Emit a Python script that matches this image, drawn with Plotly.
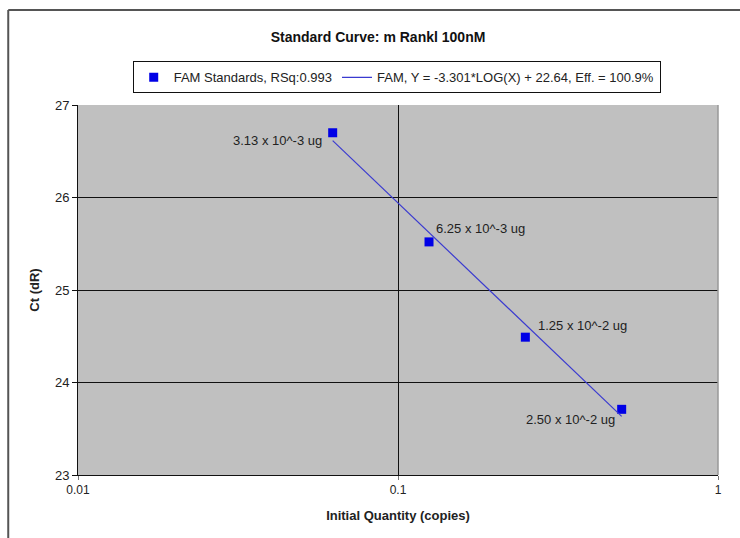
import plotly.graph_objects as go
import numpy as np

# Standard dilution series (initial quantity) and measured Ct values
quantity = [0.0625, 0.125, 0.25, 0.5]
ct_values = [26.70, 25.52, 24.49, 23.71]
point_labels = ["3.13 x 10^-3 ug", "6.25 x 10^-3 ug", "1.25 x 10^-2 ug", "2.50 x 10^-2 ug"]

# Fitted standard curve: Y = slope*LOG(X) + intercept
slope = -3.301
intercept = 22.64
fit_x = [quantity[0], quantity[-1]]
fit_y = [slope * np.log10(v) + intercept for v in fit_x]

font = "Liberation Sans, Arial, sans-serif"

fig = go.Figure()
fig.add_trace(go.Scatter(
    x=quantity, y=ct_values, mode="markers",
    name="FAM Standards, RSq:0.993",
    marker=dict(symbol="square", size=9, color="#0000e6"),
))
fig.add_trace(go.Scatter(
    x=fit_x, y=fit_y, mode="lines",
    name="FAM, Y = -3.301*LOG(X) + 22.64, Eff. = 100.9%",
    line=dict(color="#3a3ad0", width=1.2),
))

# Per-point dilution labels
offsets = [
    dict(xanchor="right", xshift=-9, yshift=-8),
    dict(xanchor="left", xshift=5, yshift=13),
    dict(xanchor="left", xshift=11, yshift=12),
    dict(xanchor="right", xshift=-5, yshift=-10),
]
for xv, yv, txt, off in zip(quantity, ct_values, point_labels, offsets):
    fig.add_annotation(x=np.log10(xv), y=yv, text=txt, showarrow=False,
                       font=dict(family=font, size=13, color="#222"),
                       yanchor="middle", **off)

# Outer chart frame (top and left edges)
fig.add_shape(type="line", xref="paper", yref="paper",
              x0=-0.109, x1=1.1, y0=1.257, y1=1.257,
              line=dict(color="#555", width=2))
fig.add_shape(type="line", xref="paper", yref="paper",
              x0=-0.109, x1=-0.109, y0=1.257, y1=-0.2,
              line=dict(color="#555", width=2))
# Right edge of the plotting area
fig.add_shape(type="line", xref="paper", yref="paper",
              x0=1, x1=1, y0=0, y1=1, line=dict(color="#999", width=1.5))

fig.update_layout(
    width=740, height=538,
    margin=dict(l=78, r=22, t=105, b=63),
    paper_bgcolor="white",
    plot_bgcolor="#c0c0c0",
    font=dict(family=font, size=12, color="#222"),
    title=dict(text="<b>Standard Curve: m Rankl 100nM</b>",
               x=378 / 740, xanchor="center", y=1 - 37 / 538, yanchor="middle",
               font=dict(size=14, color="#111")),
    legend=dict(orientation="h", x=0.498, xanchor="center",
                y=1.118, yanchor="top",
                bgcolor="white", bordercolor="#111", borderwidth=1,
                font=dict(size=13, color="#222"),
                itemwidth=30, tracegroupgap=0),
    xaxis=dict(type="log", range=[-2, 0],
               tickvals=[0.01, 0.1, 1], ticktext=["0.01", "0.1", "1"],
               showgrid=True, gridcolor="#111", gridwidth=1,
               showline=True, linecolor="#111", linewidth=1,
               ticks="outside", ticklen=4, tickcolor="#777", zeroline=False,
               tickfont=dict(size=12),
               title=dict(text="<b>Initial Quantity (copies)</b>",
                          font=dict(size=13), standoff=14)),
    yaxis=dict(range=[23, 27], dtick=1,
               showgrid=True, gridcolor="#111", gridwidth=1,
               showline=True, linecolor="#111", linewidth=1,
               ticks="outside", ticklen=5, tickcolor="#111",
               zeroline=False, tickfont=dict(size=13),
               title=dict(text="<b>Ct (dR)</b>", font=dict(size=13),
                          standoff=12)),
)

fig.write_html("out.html")
